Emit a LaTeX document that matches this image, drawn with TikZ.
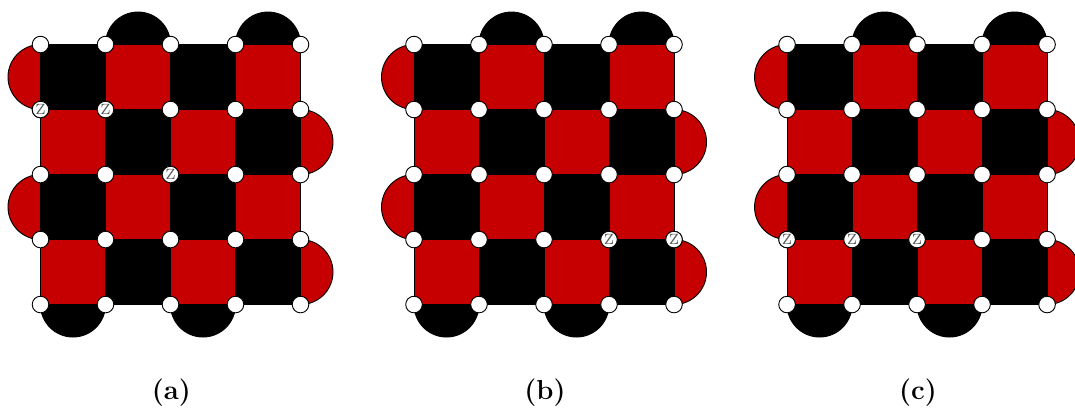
\documentclass[tikz,border=0pt]{standalone}
\usetikzlibrary{positioning}

% one lattice: #1 is the panel name, #2 the list of Z sites as col/row
\newcommand{\latticepanel}[2]{
% Bumps on the outer edges
\foreach \col in {1,3} {
    \draw[bump, fill=black] (\col,0) arc[start angle=180, end angle=0, radius=0.5];
}
\foreach \col in {0,2} {
    \draw[bump, fill=black] (\col,-4) arc[start angle=180, end angle=360, radius=0.5];
}
\foreach \row in {0,2} {
    \draw[bump, fill=plaqred] (0,-\row) arc[start angle=90, end angle=270, radius=0.5];
}
\foreach \row in {1,3} {
    \draw[bump, fill=plaqred] (4,-\row) arc[start angle=90, end angle=-90, radius=0.5];
}
% Plaquettes
\foreach \col in {0,...,3} {
    \foreach \row in {0,...,3} {
        \pgfmathtruncatemacro{\parity}{mod(\col+\row,2)}
        \ifnum\parity=0
            \draw[plaq, fill=black] (\col,-\row) rectangle ++(1,-1);
        \else
            \draw[plaq, fill=plaqred] (\col,-\row) rectangle ++(1,-1);
        \fi
    }
}
% Qubits
\foreach \col in {0,...,4} {
    \foreach \row in {0,...,4} {
        \node[qubit] (#1-\col-\row) at (\col,-\row) {};
    }
}
% Z sites
\foreach \col/\row in {#2} {
    \node[qubit, text=black!65, font=\fontsize{6.5}{6.5}\selectfont] (#1-z-\col-\row) at (\col,-\row) {Z};
}
}

\begin{document}
\begin{tikzpicture}[
    x=1cm, y=1cm,
    bump/.style={draw=black, line width=0.4pt},
    plaq/.style={draw=black, line width=0.4pt},
    qubit/.style={circle, draw=black, fill=white, line width=0.4pt, inner sep=0pt, minimum size=0.255cm},
    caption/.style={font=\large\bfseries}
]
\definecolor{plaqred}{RGB}{198,0,0}

\useasboundingbox (-0.623,0.685) rectangle (15.915,-5.592);

\begin{scope}
\latticepanel{a}{0/1, 1/1, 2/2}
\end{scope}

\begin{scope}[xshift=5.746cm]
\latticepanel{b}{3/3, 4/3}
\end{scope}

\begin{scope}[xshift=11.485cm]
\latticepanel{c}{0/3, 1/3, 2/3}
\end{scope}

% Captions
\node[caption] (capa) at (2.015,-5.35) {(a)};
\node[caption] (capb) at (7.761,-5.35) {(b)};
\node[caption] (capc) at (13.5,-5.35) {(c)};

\end{tikzpicture}
\end{document}
